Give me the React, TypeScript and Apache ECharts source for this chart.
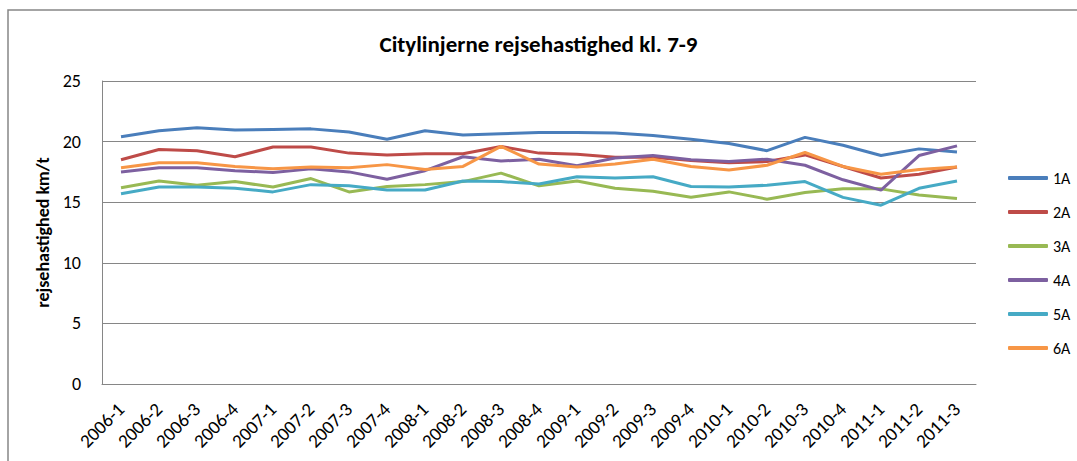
import React, { useEffect, useRef } from "react";
import * as echarts from "echarts";

const categories = [
  "2006-1", "2006-2", "2006-3", "2006-4",
  "2007-1", "2007-2", "2007-3", "2007-4",
  "2008-1", "2008-2", "2008-3", "2008-4",
  "2009-1", "2009-2", "2009-3", "2009-4",
  "2010-1", "2010-2", "2010-3", "2010-4",
  "2011-1", "2011-2", "2011-3",
];

const line1A = [20.4, 20.9, 21.15, 20.95, 21.0, 21.05, 20.8, 20.2, 20.9, 20.55, 20.65, 20.75, 20.75, 20.7, 20.5, 20.2, 19.85, 19.25, 20.35, 19.7, 18.85, 19.4, 19.15];
const line2A = [18.5, 19.35, 19.25, 18.75, 19.55, 19.55, 19.05, 18.9, 19.0, 19.0, 19.6, 19.05, 18.95, 18.7, 18.7, 18.45, 18.25, 18.35, 18.9, 17.95, 17.0, 17.3, 17.9];
const line3A = [16.2, 16.75, 16.4, 16.7, 16.25, 16.95, 15.85, 16.3, 16.45, 16.7, 17.4, 16.35, 16.75, 16.15, 15.9, 15.4, 15.85, 15.25, 15.8, 16.1, 16.1, 15.6, 15.3];
const line4A = [17.5, 17.85, 17.85, 17.6, 17.45, 17.75, 17.5, 16.9, 17.6, 18.75, 18.4, 18.55, 18.0, 18.65, 18.85, 18.5, 18.35, 18.55, 18.05, 16.85, 16.0, 18.85, 19.65];
const line5A = [15.7, 16.25, 16.25, 16.15, 15.85, 16.45, 16.35, 16.0, 16.0, 16.75, 16.7, 16.5, 17.1, 17.0, 17.1, 16.3, 16.25, 16.4, 16.7, 15.4, 14.75, 16.15, 16.75];
const line6A = [17.85, 18.25, 18.25, 17.95, 17.75, 17.9, 17.85, 18.1, 17.7, 17.95, 19.6, 18.15, 17.9, 18.15, 18.55, 17.95, 17.65, 18.05, 19.1, 17.95, 17.3, 17.7, 17.9];

const seriesNames = ["1A", "2A", "3A", "4A", "5A", "6A"];
const seriesValues = [line1A, line2A, line3A, line4A, line5A, line6A];
const seriesColors = ["#4A7EBB", "#BE4B48", "#98B954", "#7D60A0", "#46AAC5", "#F79646"];

const FONT = "Carlito, Lato, sans-serif";

export default function App() {
  const ref = useRef<HTMLDivElement>(null);

  useEffect(() => {
    document.body.style.margin = "0";
    if (!ref.current) return;
    const chart = echarts.init(ref.current, null, { renderer: "svg" });
    chart.setOption({
      animation: false,
      backgroundColor: "#ffffff",
      title: {
        text: "Citylinjerne rejsehastighed kl. 7-9",
        left: "center",
        top: 27,
        textStyle: { fontFamily: FONT, fontSize: 23, fontWeight: "bold", color: "#000" },
      },
      graphic: [
        {
          type: "rect",
          shape: { x: 8, y: 10, width: 1100, height: 500 },
          style: { fill: "none", stroke: "#868686", lineWidth: 1.5 },
          silent: true,
        },
      ],
      legend: {
        orient: "vertical",
        left: 1003,
        top: 165,
        itemWidth: 40,
        itemHeight: 4,
        itemGap: 18,
        icon: "roundRect",
        textStyle: { fontFamily: FONT, fontSize: 16, color: "#000" },
        data: seriesNames,
      },
      grid: { left: 102, right: 101, top: 81, bottom: 77, containLabel: false },
      xAxis: {
        type: "category",
        data: categories,
        boundaryGap: true,
        axisLine: { lineStyle: { color: "#868686", width: 1 } },
        axisTick: { show: false },
        axisLabel: {
          rotate: 45,
          interval: 0,
          fontFamily: FONT,
          fontSize: 19,
          color: "#000",
          margin: 22,
        },
      },
      yAxis: {
        type: "value",
        min: 0,
        max: 25,
        interval: 5,
        name: "rejsehastighed km/t",
        nameLocation: "middle",
        nameGap: 45,
        nameTextStyle: { fontFamily: FONT, fontSize: 18, fontWeight: "bold", color: "#000" },
        axisLine: { show: true, lineStyle: { color: "#868686", width: 1 } },
        axisTick: { show: false },
        splitLine: { lineStyle: { color: "#868686", width: 1 } },
        axisLabel: { fontFamily: FONT, fontSize: 18, color: "#000", margin: 21 },
      },
      series: seriesNames.map((name, i) => ({
        name,
        type: "line",
        data: seriesValues[i],
        symbol: "none",
        showSymbol: false,
        color: seriesColors[i],
        lineStyle: { width: 3, color: seriesColors[i] },
      })),
    });
    return () => chart.dispose();
  }, []);

  return <div ref={ref} style={{ width: 1077, height: 461 }} />;
}
